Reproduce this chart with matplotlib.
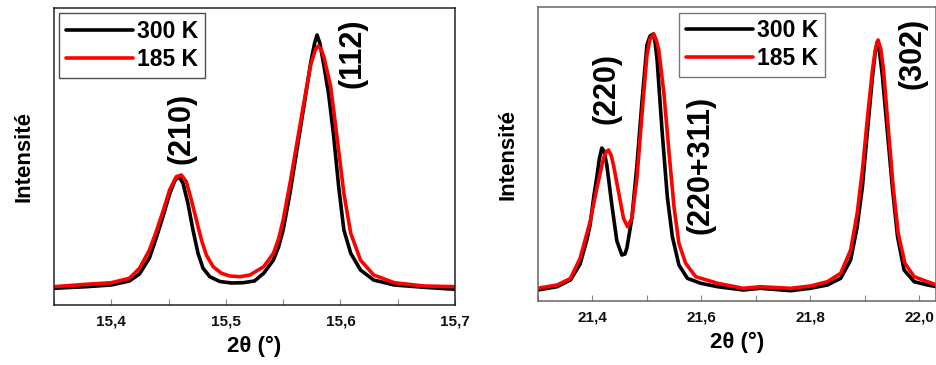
import matplotlib
matplotlib.use("Agg")
import matplotlib.pyplot as plt
from matplotlib.ticker import MultipleLocator

plt.rcParams['font.family'] = ['Liberation Sans', 'DejaVu Sans']
plt.rcParams['font.weight'] = 'bold'

# ---------------- Left panel data (2theta, intensity a.u.) ----------------
left_300_x = [15.35, 15.378, 15.40, 15.4158, 15.4246, 15.4333, 15.4392, 15.445, 15.4509, 15.4553,
              15.459, 15.4626, 15.4669, 15.4713, 15.4757, 15.4801, 15.486, 15.4947, 15.505,
              15.515, 15.525, 15.533, 15.5415, 15.546, 15.55, 15.556, 15.562, 15.568, 15.574,
              15.5775, 15.5796, 15.582, 15.5855, 15.5898, 15.594, 15.5985, 15.603, 15.609,
              15.6175, 15.629, 15.647, 15.673, 15.70]
left_300_y = [16.7, 18.3, 20, 24, 31, 47, 67, 88, 111, 124,
              128.5, 121.7, 101.7, 75, 51.7, 36.7, 28.3, 23.5, 22,
              22.3, 24, 31.7, 45, 58, 75, 112, 155, 198, 242,
              262, 270, 262, 240, 210, 170, 118, 75, 51.7,
              35, 25, 20, 17.7, 15.7]

left_185_x = [15.35, 15.378, 15.40, 15.4158, 15.4246, 15.4333, 15.4392, 15.445, 15.4509, 15.4567,
              15.4611, 15.4655, 15.4699, 15.4743, 15.4787, 15.483, 15.4889, 15.4962, 15.5035,
              15.5123, 15.521, 15.533, 15.5415, 15.546, 15.55, 15.556, 15.562, 15.568, 15.574,
              15.578, 15.5805, 15.583, 15.5855, 15.5915, 15.597, 15.603, 15.609, 15.6175,
              15.629, 15.647, 15.673, 15.70]
left_185_y = [18.3, 20.7, 22.3, 26.7, 36.7, 55, 73.3, 93.3, 115, 128.3,
              130, 123.3, 105, 85, 65, 50, 38.3, 31.7, 29,
              28.3, 30, 38.3, 51.7, 66, 85, 121.7, 161.7, 201.7, 240,
              255, 259, 256, 248.3, 218.3, 168.3, 111.7, 71.7, 45,
              30, 22.3, 19, 18.3]

# ---------------- Right panel data ----------------
right_300_x = [21.30, 21.3355, 21.36, 21.3778, 21.3906, 21.3961, 21.403, 21.4085, 21.413, 21.4176,
               21.4215, 21.4268, 21.436, 21.4452, 21.4544, 21.46, 21.4636, 21.4728, 21.482,
               21.4912, 21.5004, 21.506, 21.5119, 21.5155, 21.519, 21.528, 21.5377, 21.547,
               21.559, 21.5745, 21.599, 21.63, 21.677, 21.7087, 21.7638, 21.80, 21.8313,
               21.8557, 21.874, 21.886, 21.8956, 21.905, 21.914, 21.919, 21.923, 21.927,
               21.9324, 21.9416, 21.951, 21.96, 21.972, 21.9905, 22.015, 22.0316]
right_300_y = [11, 14.3, 21, 37, 62, 76, 105, 124, 142, 153,
               150, 136, 96, 60, 46, 47, 53, 83, 136,
               199, 256, 265, 267, 258, 241, 171, 104.3, 64.3,
               36, 22.7, 17.7, 14.3, 11, 12.7, 10.3, 12.7, 16,
               22.7, 41, 74.3, 114.3, 171, 224.3, 248, 259.3, 249,
               224.3, 167.7, 111, 64.3, 31, 19.3, 16, 14.3]

right_185_x = [21.30, 21.3355, 21.36, 21.3778, 21.3961, 21.4085, 21.4206, 21.4255, 21.4298, 21.4345,
               21.439, 21.4482, 21.4574, 21.4647, 21.4728, 21.482, 21.4912, 21.5004, 21.506,
               21.513, 21.5175, 21.522, 21.5315, 21.541, 21.55, 21.559, 21.5714, 21.5898,
               21.63, 21.677, 21.7087, 21.7638, 21.80, 21.8313, 21.8557, 21.874, 21.886,
               21.8956, 21.905, 21.914, 21.9195, 21.9243, 21.9293, 21.9343, 21.9428, 21.952,
               21.9612, 21.9735, 21.9905, 22.015, 22.0316]
right_185_y = [12.7, 16, 22.5, 42.7, 79.3, 112.7, 142.7, 149, 151, 146,
               136, 109.3, 82.7, 74.3, 82.7, 122.7, 186, 246, 262,
               267, 261, 251, 207.7, 147.7, 94.3, 57.7, 37.7, 24.3,
               17.7, 12.7, 14.3, 12.7, 15, 19.3, 27.7, 51, 87.7,
               131, 184.3, 231, 252, 261, 252, 231, 174.3, 114.3,
               67.7, 37.7, 24.3, 19.3, 16]

labels = ["300 K", "185 K"]
colors = ["#000000", "#ff0000"]

left_peaks = [("(210)", 15.461, 177), ("(112)", 15.6105, 252)]
right_peaks = [("(220)", 21.4268, 213), ("(220+311)", 21.5983, 136), ("(302)", 21.9875, 248)]

fig = plt.figure(figsize=(9.36, 3.65), dpi=100)
axL = fig.add_axes([54/936, 60/365, 401/936, 297/365])
axR = fig.add_axes([537.7/936, 64/365, 398/936, 294/365])

def style(ax, xlim, ylim, major, minor, fmt, spine_color):
    ax.set_xlim(*xlim)
    ax.set_ylim(*ylim)
    ax.xaxis.set_major_locator(MultipleLocator(major))
    ax.xaxis.set_minor_locator(MultipleLocator(minor))
    ax.xaxis.set_major_formatter(plt.FuncFormatter(lambda v, p: fmt.format(v).replace('.', ',')))
    ax.set_yticks([])
    ax.tick_params(axis='x', which='both', direction='in', length=4, width=0.8,
                   color='#888888', labelsize=11, pad=7)
    ax.tick_params(axis='x', which='major', labelcolor='#111111')
    for lab in ax.get_xticklabels():
        lab.set_fontweight('bold')
    for s in ax.spines.values():
        s.set_color(spine_color)
        s.set_linewidth(1.1)
    ax.set_xlabel("2θ (°)", fontsize=16, fontweight='bold', labelpad=5)
    ax.set_ylabel("Intensité", fontsize=16, fontweight='bold', labelpad=14)

def legend(ax, anchor, edge):
    leg = ax.legend(loc='upper left', bbox_to_anchor=anchor, fontsize=16.5, frameon=True,
                    fancybox=False, edgecolor=edge, handlelength=2.9, handletextpad=0.2,
                    borderpad=0.3, labelspacing=0.2, borderaxespad=0)
    leg.get_frame().set_linewidth(1.0)
    for t in leg.get_texts():
        t.set_fontweight('bold')
    for ln in leg.get_lines():
        ln.set_linewidth(2.6)

# Left
axL.plot(left_300_x, left_300_y, color=colors[0], lw=2.6, label=labels[0],
         solid_joinstyle='round', solid_capstyle='round')
axL.plot(left_185_x, left_185_y, color=colors[1], lw=2.6, label=labels[1],
         solid_joinstyle='round', solid_capstyle='round')
style(axL, (15.35, 15.70), (0, 297), 0.1, 0.05, "{:.1f}", '#222222')
for t, x, y in left_peaks:
    axL.text(x, y, t, rotation=90, ha='center', va='center', fontsize=22, fontweight='bold')
legend(axL, (0.013, 0.982), '#222222')

# Right
axR.plot(right_300_x, right_300_y, color=colors[0], lw=2.6, label=labels[0],
         solid_joinstyle='round', solid_capstyle='round')
axR.plot(right_185_x, right_185_y, color=colors[1], lw=2.6, label=labels[1],
         solid_joinstyle='round', solid_capstyle='round')
style(axR, (21.30, 22.03), (0, 294), 0.2, 0.1, "{:.1f}", '#666666')
for t, x, y in right_peaks:
    axR.text(x, y, t, rotation=90, ha='center', va='center', fontsize=22, fontweight='bold')
legend(axR, (0.356, 0.981), '#555555')

fig.savefig("out.png", dpi=100)
